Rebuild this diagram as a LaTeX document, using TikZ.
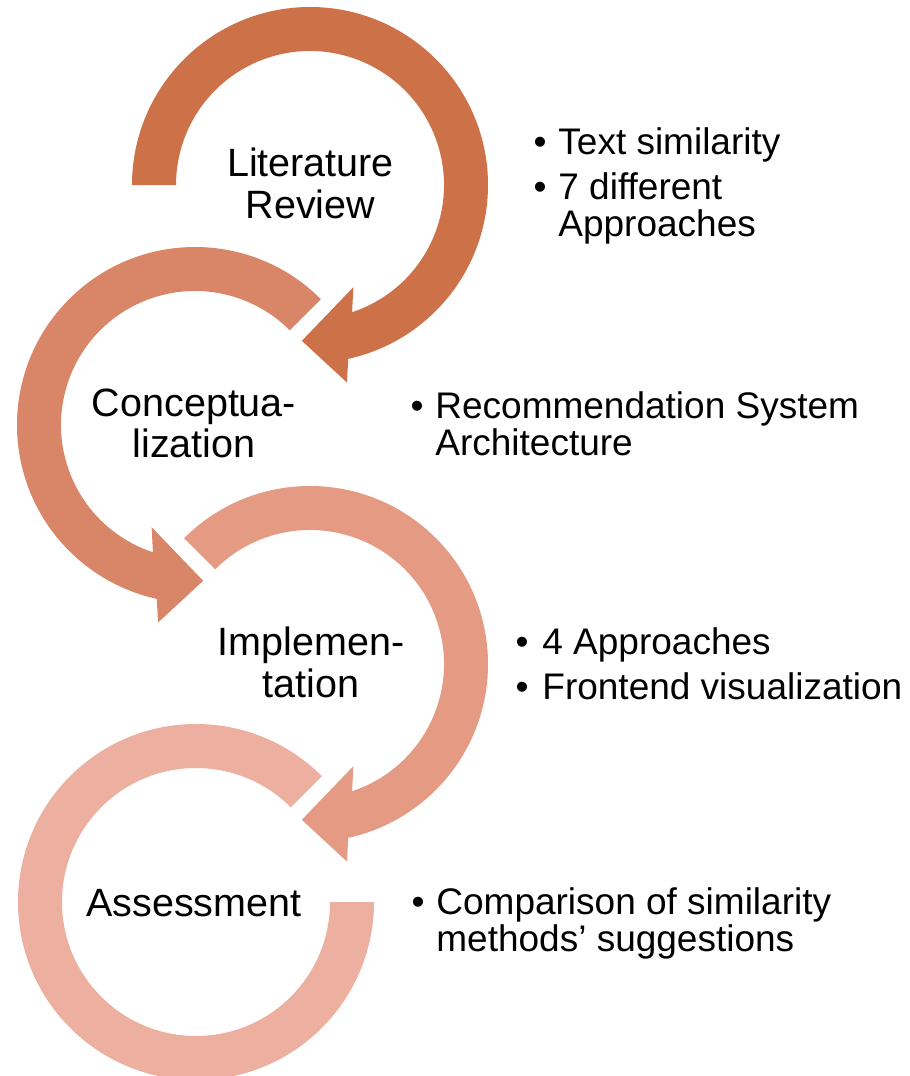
\documentclass[tikz,border=0pt]{standalone}
\usepackage{fontspec}
\setmainfont{Liberation Sans}
\definecolor{litOrange}{RGB}{205, 113, 72}
\definecolor{conOrange}{RGB}{217, 133, 104}
\definecolor{impOrange}{RGB}{228, 154, 131}
\definecolor{assOrange}{RGB}{237, 176, 160}

\begin{document}
\begin{tikzpicture}[x=0.5pt, y=0.5pt]
            % Styles
            \tikzstyle{stage} = [inner sep=0pt, align=center, font=\fontsize{19.75}{20.8}\selectfont]
            \tikzstyle{item} = [inner sep=0pt, align=left, anchor=base west, font=\fontsize{18.5}{18.6}\selectfont]
            \tikzstyle{dot} = [inner sep=0pt, anchor=base, font=\fontsize{18.5}{18.6}\selectfont]

            \useasboundingbox (0,0) rectangle (910,-1076);

            % Ring centres - explicit coordinates
            \coordinate (c1) at (310,-185);
            \coordinate (c2) at (195,-425);
            \coordinate (c3) at (310,-664);
            \coordinate (c4) at (196,-902);

            % Ring arrows
            \begin{scope}[shift={(c1)}]
                \fill[litOrange] (180:178) arc[start angle=180, end angle=-77.6, radius=178] -- (-79.4:201) -- (-93:156) -- (-67:111) -- (-71.7:134) arc[start angle=-71.7, end angle=180, radius=134] -- cycle;
            \end{scope}
            \begin{scope}[shift={(c2)}]
                \fill[conOrange] (45:178) arc[start angle=45, end angle=257.6, radius=178] -- (259.4:201) -- (273:156) -- (247:111) -- (251.7:134) arc[start angle=251.7, end angle=45, radius=134] -- cycle;
            \end{scope}
            \begin{scope}[shift={(c3)}]
                \fill[impOrange] (135:178) arc[start angle=135, end angle=-77.6, radius=178] -- (-79.4:201) -- (-93:156) -- (-67:111) -- (-71.7:134) arc[start angle=-71.7, end angle=135, radius=134] -- cycle;
            \end{scope}
            \begin{scope}[shift={(c4)}]
                \fill[assOrange] (45:178) arc[start angle=45, end angle=360, radius=178] -- (0:134) arc[start angle=360, end angle=45, radius=134] -- cycle;
            \end{scope}

            % Stage Nodes
            \node[stage] (lit) at (310.5,-183.1) {Literature\\Review};
            \node[stage] (con) at (194,-423.5) {Conceptua-\\lization};
            \node[stage] (imp) at (311,-662.3) {Implemen-\\tation};
            \node[stage] (ass) at (194,-903.3) {Assessment};

            % Bullet Nodes (multi-line texts sit on their last baseline)
            \node[dot] (litdot1) at (540,-154.5) {•};
            \node[item] (litnote1) at (558,-154.5) {Text similarity};
            \node[dot] (litdot2) at (540,-199.5) {•};
            \node[item] (litnote2) at (558,-236.7) {7 different\\Approaches};

            \node[dot] (condot1) at (417,-418) {•};
            \node[item] (connote1) at (435,-455.2) {Recommendation System\\Architecture};

            \node[dot] (impdot1) at (522,-654) {•};
            \node[item] (impnote1) at (542,-654) {4 Approaches};
            \node[dot] (impdot2) at (522,-699) {•};
            \node[item] (impnote2) at (542,-699) {Frontend visualization};

            \node[dot] (assdot1) at (418,-914) {•};
            \node[item] (assnote1) at (436,-951.2) {Comparison of similarity\\methods’ suggestions};
        \end{tikzpicture}
\end{document}
